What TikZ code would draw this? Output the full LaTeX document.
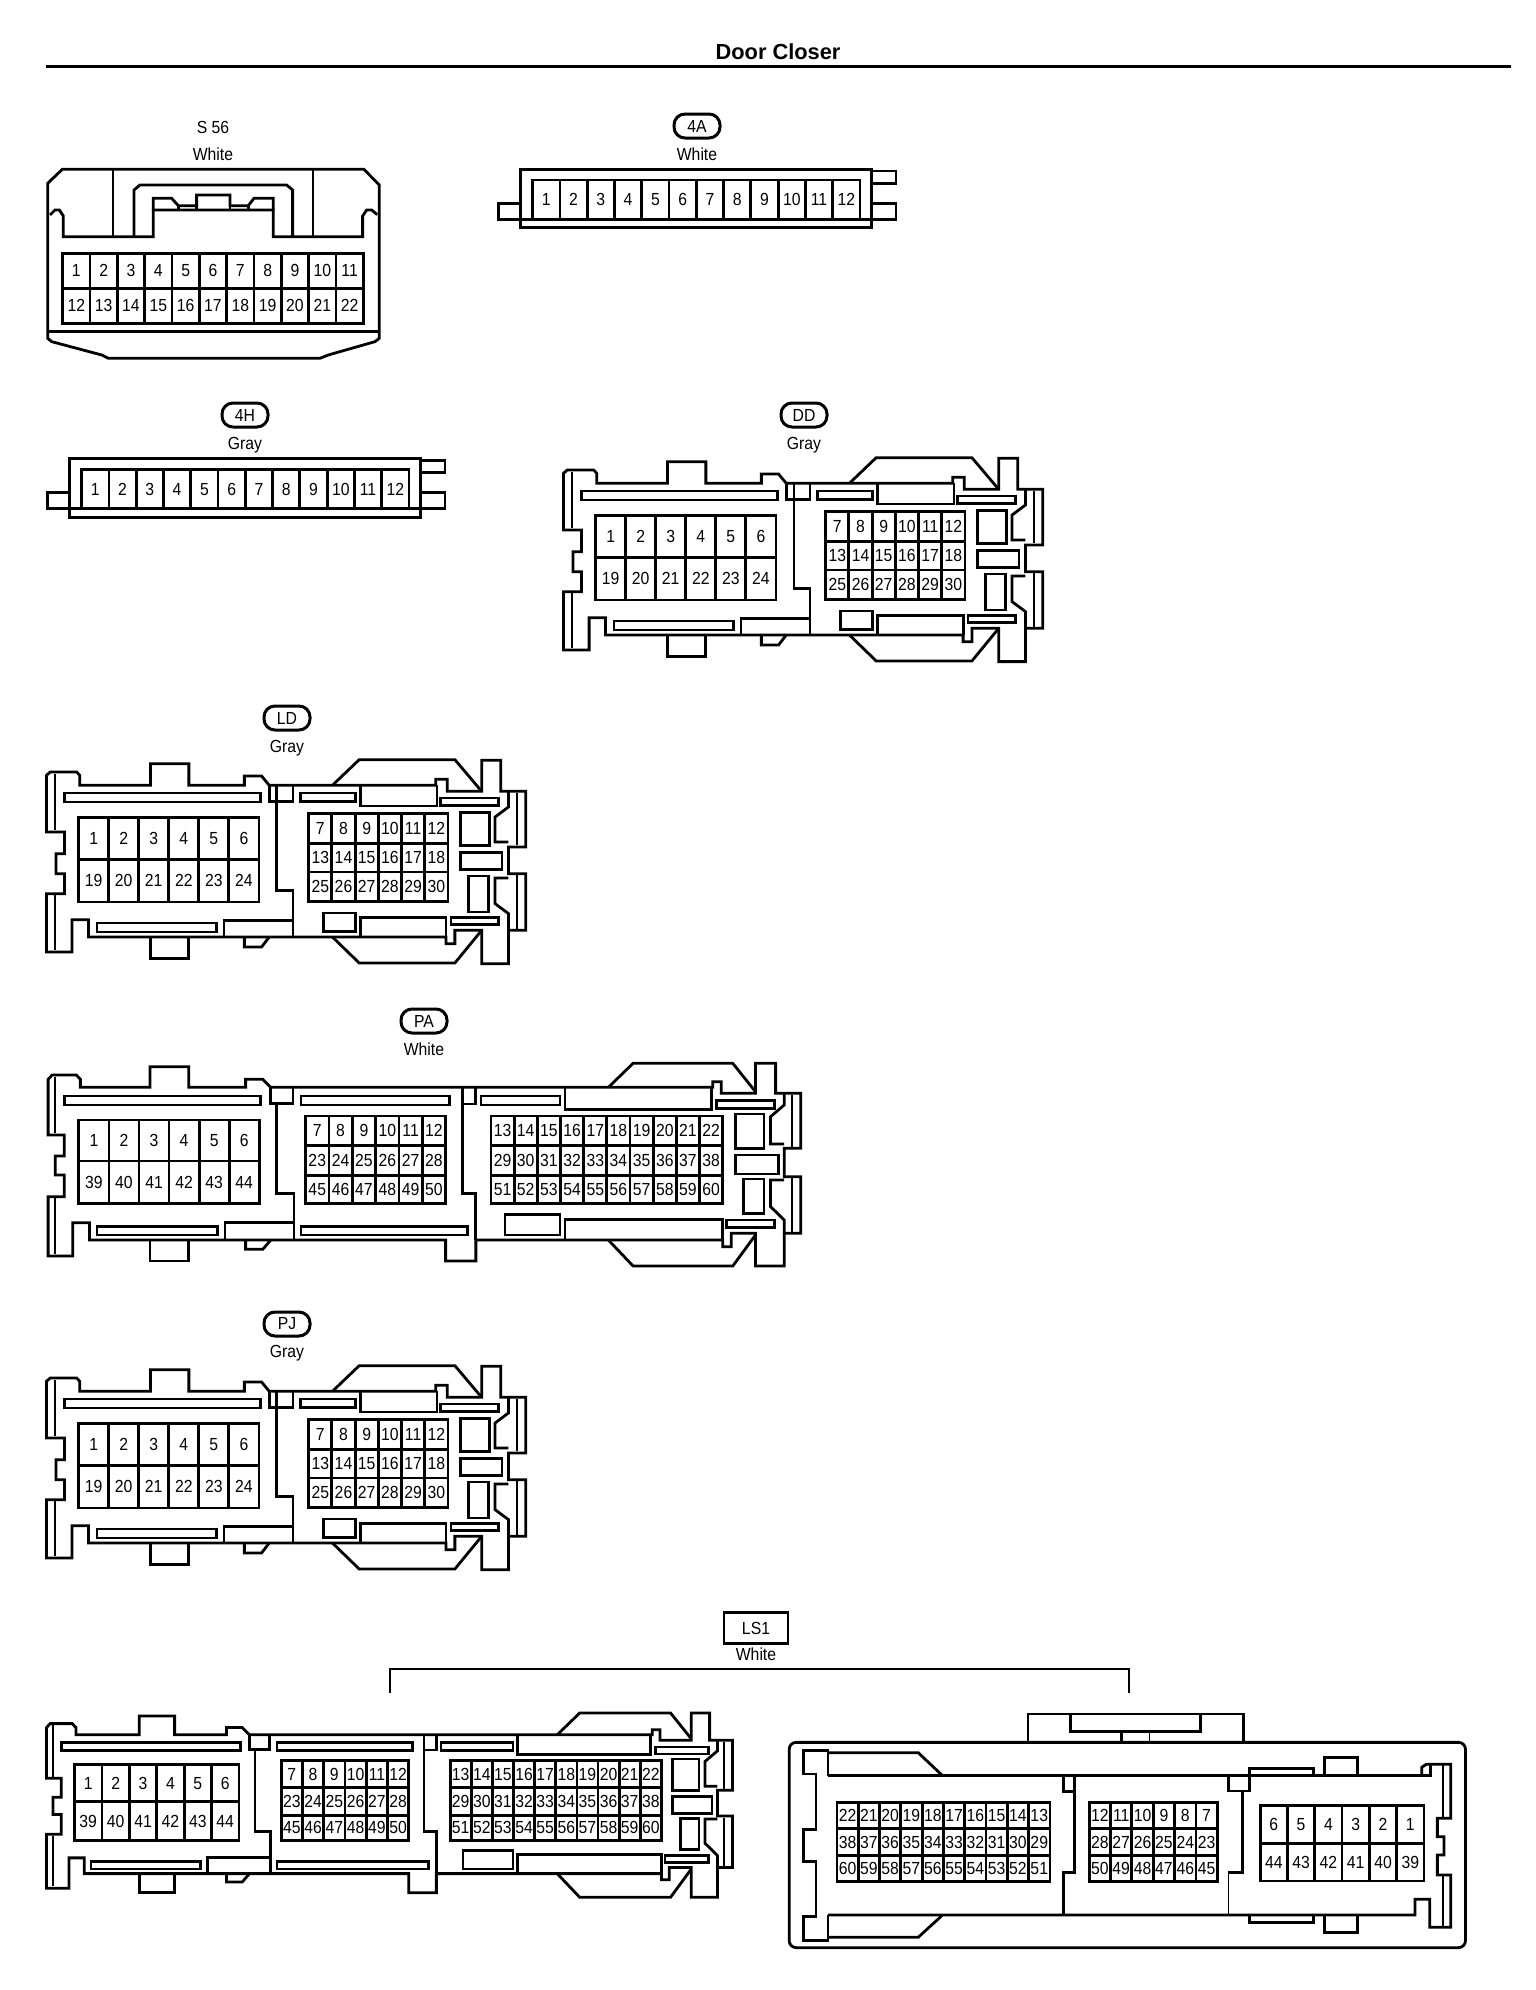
\documentclass[tikz,border=0pt]{standalone}
\usepackage{fontspec}
\setmainfont{Liberation Sans}
\newfontfamily\narrowfont[FakeStretch=0.9]{Liberation Sans}
\tikzset{
  body/.style={draw=black,line width=2.8pt,fill=none},
  thinline/.style={draw=black,line width=1.8pt},
  gridline/.style={draw=black,line width=2.8pt},
  pinnum/.style={inner sep=0pt,font=\narrowfont\fontsize{17.5}{19}\selectfont},
  caption/.style={inner sep=0pt,font=\narrowfont\fontsize{17.5}{19}\selectfont},
  pill/.style={draw=black,line width=3pt,rounded corners=11pt,minimum width=46pt,minimum height=24pt,inner sep=0pt,font=\narrowfont\fontsize{17.5}{19}\selectfont},
  tagbox/.style={draw=black,line width=2.4pt,minimum width=64pt,minimum height=31pt,inner sep=0pt,font=\narrowfont\fontsize{17.5}{19}\selectfont},
}
% x0,y0,x1,y1,ncols,numbers
\newcommand\pingrid[6]{%
  \draw[gridline] (#1,#2) rectangle (#3,#4);
  \foreach \n [count=\i] in {#6} {
    \node[pinnum] (pin\n) at ({#1+(\i-.5)*(#3-#1)/#5},{(#2+#4)/2}) {\n};
    \ifnum\i>1 \draw[gridline] ({#1+(\i-1)*(#3-#1)/#5},#2) -- ({#1+(\i-1)*(#3-#1)/#5},#4);\fi
  }%
}
% 12-way strip connector, origin X,Y
\newcommand\stripconn[2]{%
  \begin{scope}[shift={(#1pt,-#2pt)},x=0.3333pt,y=-0.3333pt]
    \draw[body] (122,208) rectangle (1175,383);
    \draw[body] (122,310)--(55,310)--(55,358)--(1248,358)--(1248,310)--(1175,310);
    \draw[body] (1175,213)--(1248,213)--(1248,250)--(1175,250);
    \pingrid{158}{240}{1140}{358}{12}{1,2,3,4,5,6,7,8,9,10,11,12}
  \end{scope}%
}
% 24-way + 30-way connector
\newcommand\ddconn[2]{%
  \begin{scope}[shift={(#1pt,-#2pt)},x=0.3828pt,y=-0.3333pt]
    \draw[body] (218,250)--(228,240)--(297,240)--(305,250)--(305,280)--(490,280)--(490,215)--(590,215)--(590,280)--(735,280)--(735,252)--(780,252)--(800,280)--(1235,280)--(1235,262)--(1265,262)--(1265,298)--(1355,298)--(1355,205)--(1405,205)--(1405,298)--(1470,298)--(1470,465)--(1425,465)--(1425,545)--(1470,545)--(1470,715)--(1425,715)--(1425,815)--(1355,815)--(1355,715)--(1285,715)--(1285,755)--(1262,755)--(1262,735)--(328,735)--(328,683)--(285,683)--(285,780)--(218,780)--(218,605)--(265,605)--(265,545)--(243,545)--(243,485)--(265,485)--(265,420)--(218,420)--cycle;
    \draw[thinline] (240,245)--(240,415) (240,610)--(240,775) (1447,303)--(1447,460) (1447,550)--(1447,710);
    \draw[body] (490,735)--(490,800)--(590,800)--(590,735);
    \draw[body] (735,735)--(735,765)--(780,765)--(800,735);
    \draw[body] (965,280)--(1035,203)--(1285,203)--(1355,298);
    \draw[body] (965,735)--(1035,813)--(1285,813)--(1355,715);
    \draw[body] (265,303) rectangle (778,330);
    \draw[body] (350,693) rectangle (662,720);
    \draw[body] (682,735)--(682,685)--(862,685);
    \draw[body] (800,280)--(800,328)--(862,328)--(862,280);
    \draw[body] (820,280)--(820,595)--(862,595)--(862,735);
    \draw[body] (882,303) rectangle (1025,328);
    \draw[body] (1038,280)--(1038,342)--(1238,342)--(1238,280);
    \draw[body] (1248,318) rectangle (1398,340);
    \draw[body] (1300,362) rectangle (1375,460);
    \draw[body] (1300,482) rectangle (1408,533);
    \draw[body] (1320,552) rectangle (1373,660);
    \draw[body] (942,663) rectangle (1025,718);
    \draw[body] (1038,735)--(1038,677)--(1262,677)--(1262,735);
    \draw[body] (1275,677) rectangle (1398,697);
    \draw[body] (1425,298)--(1425,345)--(1390,375)--(1390,450)--(1425,450);
    \draw[body] (1425,558)--(1390,558)--(1390,635)--(1425,665)--(1425,715);
    \pingrid{302}{377}{773}{503}{6}{1,2,3,4,5,6}
    \pingrid{302}{503}{773}{630}{6}{19,20,21,22,23,24}
    \pingrid{903}{365}{1267}{455}{6}{7,8,9,10,11,12}
    \pingrid{903}{455}{1267}{540}{6}{13,14,15,16,17,18}
    \pingrid{903}{540}{1267}{628}{6}{25,26,27,28,29,30}
  \end{scope}%
}
% 44+... 60-way connector: X,Y,xunit,yunit
\newcommand\paconn[4]{%
  \begin{scope}[shift={(#1pt,-#2pt)},x=#3pt,y=-#4pt]
    \draw[body] (36,148)--(44,135)--(92,135)--(100,148)--(100,172)--(238,172)--(238,110)--(315,110)--(315,172)--(428,172)--(428,148)--(462,148)--(478,172)--(1355,172)--(1355,155)--(1372,155)--(1372,190)--(1440,190)--(1440,100)--(1480,100)--(1480,190)--(1530,190)--(1530,355)--(1497,355)--(1497,440)--(1530,440)--(1530,610)--(1497,610)--(1497,708)--(1440,708)--(1440,610)--(1392,610)--(1392,650)--(1375,650)--(1375,630)--(885,630)--(885,693)--(825,693)--(825,630)--(118,630)--(118,578)--(85,578)--(85,678)--(36,678)--(36,500)--(68,500)--(68,435)--(50,435)--(50,378)--(68,378)--(68,315)--(36,315)--cycle;
    \draw[thinline] (50,140)--(50,310) (50,505)--(50,672) (1512,195)--(1512,350) (1512,445)--(1512,605);
    \draw[body] (238,630)--(238,693)--(315,693)--(315,630);
    \draw[body] (428,630)--(428,658)--(462,658)--(478,630);
    \draw[body] (1148,172)--(1197,100)--(1395,100)--(1440,185);
    \draw[body] (1148,630)--(1197,708)--(1395,708)--(1440,615);
    \draw[body] (68,198) rectangle (458,225);
    \draw[body] (538,198) rectangle (833,225);
    \draw[body] (895,198) rectangle (1052,225);
    \draw[body] (1062,172)--(1062,238)--(1352,238)--(1352,172);
    \draw[body] (1362,212) rectangle (1478,235);
    \draw[body] (478,172)--(478,220)--(522,220)--(522,172);
    \draw[body] (490,220)--(490,490)--(524,490)--(524,630);
    \draw[body] (858,172)--(858,222)--(885,222)--(885,172);
    \draw[body] (858,222)--(858,490)--(885,490)--(885,630);
    \draw[body] (133,590) rectangle (372,615);
    \draw[body] (538,590) rectangle (868,615);
    \draw[body] (387,630)--(387,578)--(522,578);
    \draw[body] (943,553) rectangle (1052,615);
    \draw[body] (1062,630)--(1062,568)--(1375,568)--(1375,630);
    \draw[body] (1383,570) rectangle (1478,593);
    \draw[body] (1400,252) rectangle (1457,355);
    \draw[body] (1400,375) rectangle (1485,432);
    \draw[body] (1417,447) rectangle (1457,550);
    \draw[body] (1497,190)--(1497,225)--(1470,260)--(1470,342)--(1497,342);
    \draw[body] (1497,450)--(1470,450)--(1470,530)--(1497,570)--(1497,610);
    \pingrid{97}{270}{455}{393}{6}{1,2,3,4,5,6}
    \pingrid{97}{393}{455}{520}{6}{39,40,41,42,43,44}
    \pingrid{547}{258}{825}{347}{6}{7,8,9,10,11,12}
    \pingrid{547}{347}{825}{437}{6}{23,24,25,26,27,28}
    \pingrid{547}{437}{825}{520}{6}{45,46,47,48,49,50}
    \pingrid{915}{258}{1375}{347}{10}{13,14,15,16,17,18,19,20,21,22}
    \pingrid{915}{347}{1375}{437}{10}{29,30,31,32,33,34,35,36,37,38}
    \pingrid{915}{437}{1375}{520}{10}{51,52,53,54,55,56,57,58,59,60}
  \end{scope}%
}
\begin{document}
\begin{tikzpicture}[x=1pt,y=-1pt]
\useasboundingbox[fill=white] (0,0) rectangle (1536,1990);
% title
\node[inner sep=0pt,font=\fontsize{21.8}{24}\selectfont\bfseries] (title) at (778,52) {Door Closer};
\coordinate (ruleL) at (46,66.5);
\coordinate (ruleR) at (1511,66.5);
\draw[draw=black,line width=3.6pt] (ruleL) -- (ruleR);
% S 56
\node[caption] (s56) at (213,127) {S 56};
\node[caption] (s56c) at (213,154) {White};
\begin{scope}[shift={(0pt,-90pt)},x=0.3333pt,y=-0.3333pt]
  \draw[body] (143,280)--(187,238)--(1092,238)--(1138,285)--(1138,745)--(1125,755)--(985,795)--(960,805)--(325,805)--(305,795)--(155,755)--(143,745)--cycle;
  \draw[body] (143,725)--(1138,725);
  \draw[body] (150,375)--(165,360)--(178,360)--(190,378)--(190,440)--(460,440)--(460,360)--(820,360)--(820,440)--(1088,440)--(1088,378)--(1100,360)--(1115,360)--(1132,374);
  \draw[thinline] (340,240)--(340,440) (940,240)--(940,440);
  \draw[body] (402,440)--(402,300)--(420,285)--(860,285)--(878,300)--(878,440);
  \draw[body] (460,360)--(460,325)--(515,325)--(535,347)--(590,347)--(590,315)--(690,315)--(690,347)--(745,347)--(762,325)--(820,325)--(820,360);
  \draw[body] (590,347)--(590,360) (690,347)--(690,360) (535,347)--(535,360) (745,347)--(745,360);
  \pingrid{188}{490}{1090}{595}{11}{1,2,3,4,5,6,7,8,9,10,11}
  \pingrid{188}{595}{1090}{700}{11}{12,13,14,15,16,17,18,19,20,21,22}
\end{scope}
% 4A
\node[pill] (tag4A) at (697,126) {4A};
\node[caption] (cap4A) at (697,154) {White};
\stripconn{480}{100}
% 4H
\node[pill] (tag4H) at (245,415) {4H};
\node[caption] (cap4H) at (245,445) {Gray};
\stripconn{29}{389.5}
% DD
\node[pill] (tagDD) at (804,415) {DD};
\node[caption] (capDD) at (804,445) {Gray};
\ddconn{480}{390}
% LD
\node[pill] (tagLD) at (287,718) {LD};
\node[caption] (capLD) at (287,748) {Gray};
\ddconn{-37}{692}
% PA
\node[pill] (tagPA) at (424,1021) {PA};
\node[caption] (capPA) at (424,1049) {White};
\paconn{30}{1030}{0.5038}{0.3333}
% PJ
\node[pill] (tagPJ) at (287,1324) {PJ};
\node[caption] (capPJ) at (287,1353) {Gray};
\ddconn{-37}{1298}
% LS1
\node[tagbox] (tagLS) at (756,1628) {LS1};
\node[caption] (capLS) at (756,1654) {White};
\coordinate (brA) at (390,1693);
\coordinate (brB) at (1129,1693);
\coordinate (brT) at (756,1669);
\draw[draw=black,line width=2.4pt] (brA) |- (brT) -| (brB);
\paconn{30}{1682.7}{0.4592}{0.3030}
% LS1 mirror half
\begin{scope}[shift={(770pt,-1680pt)},x=0.4464pt,y=-0.3333pt]
  \draw[body,rounded corners=7pt] (43,187) rectangle (1558,803);
  \draw[body] (578,187)--(578,102)--(1060,102)--(1060,187);
  \draw[body] (673,105)--(673,155)--(965,155)--(965,105);
  \draw[body] (788,155)--(788,187);
  \draw[thinline] (850,155)--(850,187);
  \draw[body] (130,287)--(1480,287)--(1480,253);
  \draw[body] (1460,287)--(1460,262)--(1470,253)--(1525,253)--(1525,415)--(1495,415)--(1495,470)--(1510,470)--(1510,525)--(1495,525)--(1495,585)--(1525,585)--(1525,742)--(1478,742)--(1478,658)--(1445,658)--(1445,705)--(130,705);
  \draw[thinline] (1508,255)--(1508,412) (1508,588)--(1508,740);
  \draw[body] (130,287)--(130,212)--(75,212)--(75,282)--(103,282)--(103,448)--(75,448)--(75,545)--(103,545)--(103,710)--(75,710)--(75,782)--(130,782)--(130,705);
  \draw[body] (130,218)--(332,218)--(385,285);
  \draw[body] (130,772)--(332,772)--(385,707);
  \draw[body] (657,287)--(657,335)--(683,335)--(683,287);
  \draw[body] (683,335)--(683,577)--(657,577)--(657,705);
  \draw[body] (1027,287)--(1027,333)--(1075,333)--(1075,265)--(1218,265)--(1218,287);
  \draw[body] (1058,333)--(1058,577)--(1027,577);
  \draw[thinline] (1027,577)--(1027,705);
  \draw[body] (1242,287)--(1242,232)--(1316,232)--(1316,287);
  \draw[body] (1242,705)--(1242,758)--(1316,758)--(1316,705);
  \draw[body] (1075,705)--(1075,727)--(1218,727)--(1218,705);
  \pingrid{150}{367}{627}{445}{10}{22,21,20,19,18,17,16,15,14,13}
  \pingrid{150}{445}{627}{527}{10}{38,37,36,35,34,33,32,31,30,29}
  \pingrid{150}{527}{627}{605}{10}{60,59,58,57,56,55,54,53,52,51}
  \pingrid{715}{367}{1002}{445}{6}{12,11,10,9,8,7}
  \pingrid{715}{445}{1002}{527}{6}{28,27,26,25,24,23}
  \pingrid{715}{527}{1002}{605}{6}{50,49,48,47,46,45}
  \pingrid{1098}{377}{1465}{490}{6}{6,5,4,3,2,1}
  \pingrid{1098}{490}{1465}{603}{6}{44,43,42,41,40,39}
\end{scope}
\end{tikzpicture}
\end{document}
